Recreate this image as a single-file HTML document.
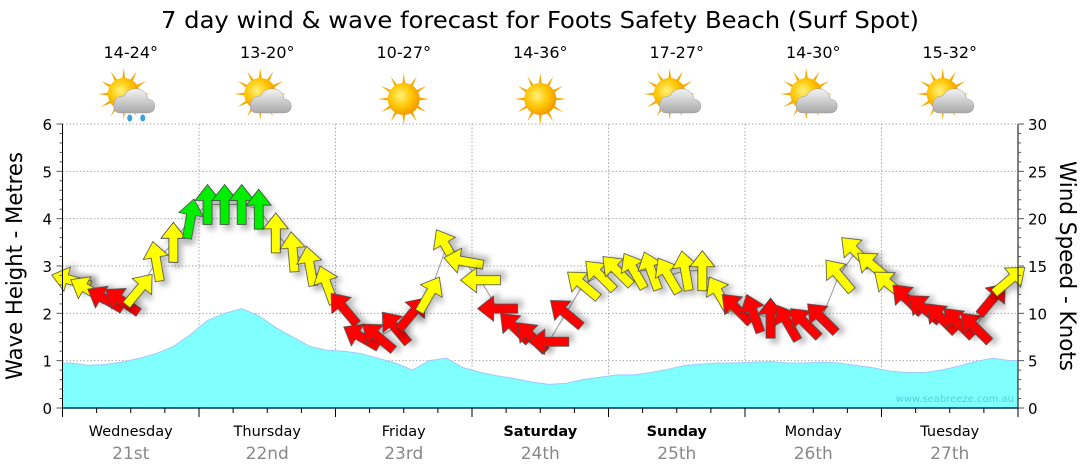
<!DOCTYPE html>
<html><head><meta charset="utf-8"><style>
html,body{margin:0;padding:0;background:#fff;width:1080px;height:475px;overflow:hidden}
svg text{font-family:"DejaVu Sans","Liberation Sans",sans-serif}
</style></head><body>
<svg id="chart" width="1080" height="475" viewBox="0 0 1080 475" xmlns="http://www.w3.org/2000/svg">
<defs>
<filter id="sh" x="-50%" y="-50%" width="200%" height="200%"><feGaussianBlur in="SourceAlpha" stdDeviation="3"/><feOffset dx="4" dy="5"/><feComponentTransfer><feFuncA type="linear" slope="0.25"/></feComponentTransfer><feMerge><feMergeNode/><feMergeNode in="SourceGraphic"/></feMerge></filter>
<radialGradient id="sun" cx="0.4" cy="0.4" r="0.6"><stop offset="0" stop-color="#fff27a"/><stop offset="0.6" stop-color="#ffc400"/><stop offset="1" stop-color="#f29a00"/></radialGradient>
<linearGradient id="cloud" x1="0" y1="0" x2="0" y2="1"><stop offset="0" stop-color="#f4f4f4"/><stop offset="1" stop-color="#a8a8a8"/></linearGradient>
</defs>
<text x="540" y="28" text-anchor="middle" font-size="23" textLength="758" lengthAdjust="spacingAndGlyphs">7 day wind &amp; wave forecast for Foots Safety Beach (Surf Spot)</text>
<g id="header"></g>
<g id="grid"></g>
<g id="waves"></g>
<g id="wind"></g>
<g id="axes"></g>
<text x="1014" y="402" text-anchor="end" font-size="10" fill="#55d0d8">www.seabreeze.com.au</text>
<text transform="translate(22,266) rotate(-90)" text-anchor="middle" font-size="22" textLength="228" lengthAdjust="spacingAndGlyphs">Wave Height - Metres</text>
<text transform="translate(1060,266) rotate(90)" text-anchor="middle" font-size="22" textLength="210" lengthAdjust="spacingAndGlyphs">Wind Speed - Knots</text>
</svg>
<script>
const days = ["Wednesday","Thursday","Friday","Saturday","Sunday","Monday","Tuesday"];
const dates = ["21st","22nd","23rd","24th","25th","26th","27th"];
const temps = ["14-24°","13-20°","10-27°","14-36°","17-27°","14-30°","15-32°"];
const icons = ["rain","cloud","sun","sun","cloud","cloud","cloud"];
const boldDays = [false,false,false,true,true,false,false];
const waveTicks = [0,1,2,3,4,5,6];
const windTicks = [0,5,10,15,20,25,30];
const windSpeed = [13.5,12.5,11.5,11.3,12.5,15.5,17.5,20,
 21.5,21.5,21.5,21,18.5,16.5,15,13,
 10.5,7.5,7.5,8.5,10,12,17,15.5,
 13.5,10.5,8.5,7.5,7,10,13,14,
 14.5,14.5,14.5,14,14.5,14.5,12,10.5,
 10,9.5,9,9,9.5,14,16.5,15,
 13,11.5,10.5,9.5,9,8.5,11.5,13.5];
const windDir = [-75,-60,-60,-55,40,-10,0,10,
 0,0,0,0,0,-5,-10,-20,
 -40,-60,-50,-40,40,30,-30,-80,
 -90,-90,-45,-45,-90,-50,-50,-45,
 -45,-30,-20,-30,-10,0,-30,-45,
 -20,0,-30,-45,-45,-40,-45,-50,
 -50,-45,-50,-45,-45,-45,40,50];
const waveHeight = [0.95,0.9,0.92,0.97,1.05,1.15,1.3,1.55,
 1.85,2.0,2.1,1.95,1.7,1.5,1.3,1.22,
 1.2,1.15,1.05,0.95,0.8,1.0,1.05,0.85,
 0.75,0.68,0.62,0.55,0.5,0.52,0.6,0.65,
 0.7,0.7,0.75,0.82,0.9,0.93,0.95,0.95,
 0.97,0.98,0.95,0.95,0.97,0.95,0.9,0.85,
 0.78,0.75,0.75,0.8,0.88,0.98,1.05,1.0];

const NS="http://www.w3.org/2000/svg";
const X0=62.5,X1=1018,Y0=408,Y1=124;
const dayW=(X1-X0)/days.length;
const xDay=d=>X0+d*dayW;
const xStep=i=>X0+(i+0.5)*dayW/8;
const yWave=v=>Y0-(v/6)*(Y0-Y1);
const yWind=v=>Y0-(v/30)*(Y0-Y1);
function el(tag,attrs,parent){const e=document.createElementNS(NS,tag);for(const k in attrs)e.setAttribute(k,attrs[k]);parent.appendChild(e);return e;}
const G=id=>document.getElementById(id);

// grid
const grid=G('grid');
waveTicks.slice(1).forEach(t=>{const l=el('line',{x1:X0,x2:X1,y1:yWave(t),y2:yWave(t),stroke:'#aaa','stroke-dasharray':'1.5,2'},grid);

});
for(let d=1;d<days.length;d++){const l=el('line',{x1:xDay(d),x2:xDay(d),y1:Y1,y2:Y0,stroke:'#aaa','stroke-dasharray':'1.5,2'},grid);

}

// waves
let pts=`${X0},${Y0} ${X0},${yWave(waveHeight[0])} `;
waveHeight.forEach((v,i)=>pts+=`${xStep(i)},${yWave(v)} `);
pts+=`${X1},${yWave(waveHeight[waveHeight.length-1])} ${X1},${Y0}`;
const wa=el('polygon',{points:pts,fill:'#80ffff',stroke:'#a0c8ff','stroke-width':1},G('waves'));



// wind line + arrows
const wind=G('wind');
let lp='';windSpeed.forEach((v,i)=>lp+=`${xStep(i)},${yWind(v)} `);
const wl=el('polyline',{points:lp,fill:'none',stroke:'#999','stroke-width':1},wind);


windSpeed.forEach((v,i)=>{
  const c=v>=20?'#00ee00':(v>=12?'#ffff00':'#ff0000');
  const a=el('polygon',{points:'0,-20 12.5,-4 4.5,-4 4.5,20 -4.5,20 -4.5,-4 -12.5,-4',fill:c,stroke:'#444','stroke-width':0.8,filter:'url(#sh)',
    transform:`translate(${xStep(i)},${yWind(v)}) rotate(${windDir[i]})`},wind);
  
  
});

// axes
const ax=G('axes');
el('line',{x1:X0,x2:X0,y1:Y1,y2:Y0,stroke:'#000'},ax);
el('line',{x1:X1,x2:X1,y1:Y1,y2:Y0,stroke:'#000'},ax);
el('line',{x1:X0,x2:X1,y1:Y0,y2:Y0,stroke:'#003366','stroke-width':1.5},ax);
for(let k=0;k<=30;k++){const y=Y1+k*(Y0-Y1)/30;const maj=k%5==0;
  el('line',{x1:X0-(maj?6:3),x2:X0,y1:y,y2:y,stroke:'#555'},ax);
  el('line',{x1:X1,x2:X1+(maj?6:3),y1:y,y2:y,stroke:'#555'},ax);}
waveTicks.forEach(t=>{const tx=el('text',{x:52,y:yWave(t)+6,'text-anchor':'end','font-size':15},ax);tx.textContent=t;

});
windTicks.forEach(t=>{const tx=el('text',{x:1028,y:yWind(t)+6,'font-size':15},ax);tx.textContent=t;

});
for(let k=0;k<=28;k++){const x=X0+k*dayW/4;const maj=k%4==0;
  el('line',{x1:x,x2:x,y1:Y0,y2:Y0+(maj?9:5),stroke:'#000'},ax);}

// header & day labels
const hd=G('header');
days.forEach((d,i)=>{
  const cx=xDay(i)+dayW/2;
  const t=el('text',{x:cx,y:58,'text-anchor':'middle','font-size':16},hd);t.textContent=temps[i];
  
  
  const g=el('g',{transform:`translate(${cx},99)`},hd);
  
  
  const sx=icons[i]=='sun'?0:-7, sy=icons[i]=='sun'?0:-5;
  for(let r=0;r<12;r++){el('polygon',{points:'-3.5,0 3.5,0 0,-26',fill:'#f5a800',transform:`translate(${sx},${sy}) rotate(${r*30})`},g);}
  el('circle',{cx:sx,cy:sy,r:16,fill:'url(#sun)'},g);
  if(icons[i]!='sun'){
    el('path',{d:'M-10,14 Q-18,14 -17,5 Q-16,-3 -7,-3 Q-2,-12 8,-10 Q16,-8 17,0 Q24,1 24,7 Q24,14 16,14 Z',fill:'url(#cloud)',stroke:'#999','stroke-width':0.5},g);
  }
  if(icons[i]=='rain'){el('ellipse',{cx:-1,cy:19,rx:2.5,ry:3.5,fill:'#3aa0e0'},g);el('ellipse',{cx:12,cy:19,rx:2.5,ry:3.5,fill:'#3aa0e0'},g);}
  const dl=el('text',{x:cx,y:436,'text-anchor':'middle','font-size':14.5,'font-weight':boldDays[i]?'bold':'normal'},hd);dl.textContent=d;
  
  
  const dt=el('text',{x:cx,y:459,'text-anchor':'middle','font-size':17,fill:'#888'},hd);dt.textContent=dates[i];
  
  
});
</script>
</body></html>
